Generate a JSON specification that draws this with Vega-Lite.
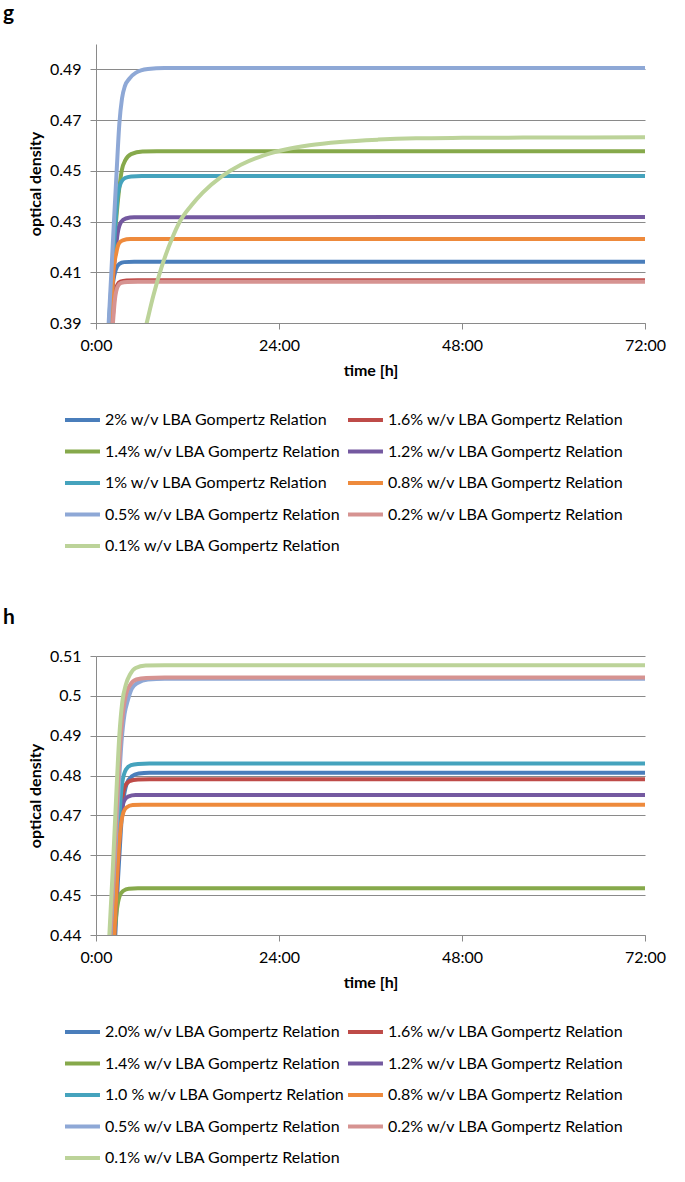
{
  "$schema": "https://vega.github.io/schema/vega-lite/v6.json",
  "background": "white",
  "padding": {"left": 3, "top": 3, "right": 5, "bottom": 0},
  "config": {
    "font": "Lato",
    "view": {"stroke": null},
    "axis": {
      "domainColor": "#8a8a8a", "tickColor": "#8a8a8a", "gridColor": "#8a8a8a", "gridWidth": 1.2,
      "labelColor": "#000000", "labelFont": "Lato", "labelFontSize": 16,
      "titleColor": "#000000", "titleFont": "Lato", "titleFontSize": 16, "titleFontWeight": "bold",
      "tickSize": 6
    },
    "legend": {
      "labelFont": "Lato", "labelFontSize": 16, "labelColor": "#000000", "labelLimit": 500
    },
    "title": {"font": "Lato", "fontSize": 21, "fontWeight": "bold", "color": "#000000"}
  },
  "resolve": {"scale": {"color": "independent", "y": "independent"}, "legend": {"color": "independent"}},
  "spacing": 53,
  "datasets": {
    "g": [
      {"s": "2% w/v LBA Gompertz Relation", "t": 1.6, "v": 0.375},
      {"s": "2% w/v LBA Gompertz Relation", "t": 1.95, "v": 0.39},
      {"s": "2% w/v LBA Gompertz Relation", "t": 2.18, "v": 0.4043},
      {"s": "2% w/v LBA Gompertz Relation", "t": 2.6, "v": 0.411},
      {"s": "2% w/v LBA Gompertz Relation", "t": 3.06, "v": 0.4133},
      {"s": "2% w/v LBA Gompertz Relation", "t": 3.7, "v": 0.414},
      {"s": "2% w/v LBA Gompertz Relation", "t": 5, "v": 0.4141},
      {"s": "2% w/v LBA Gompertz Relation", "t": 72, "v": 0.4141},
      {"s": "1.6%  w/v LBA Gompertz Relation", "t": 1.8, "v": 0.375},
      {"s": "1.6%  w/v LBA Gompertz Relation", "t": 2.15, "v": 0.39},
      {"s": "1.6%  w/v LBA Gompertz Relation", "t": 2.4, "v": 0.3995},
      {"s": "1.6%  w/v LBA Gompertz Relation", "t": 2.8, "v": 0.405},
      {"s": "1.6%  w/v LBA Gompertz Relation", "t": 3.2, "v": 0.4063},
      {"s": "1.6%  w/v LBA Gompertz Relation", "t": 4, "v": 0.4068},
      {"s": "1.6%  w/v LBA Gompertz Relation", "t": 5.5, "v": 0.4069},
      {"s": "1.6%  w/v LBA Gompertz Relation", "t": 72, "v": 0.4069},
      {"s": "1.4%  w/v LBA Gompertz Relation", "t": 1.3, "v": 0.37},
      {"s": "1.4%  w/v LBA Gompertz Relation", "t": 1.75, "v": 0.39},
      {"s": "1.4%  w/v LBA Gompertz Relation", "t": 2.3, "v": 0.417},
      {"s": "1.4%  w/v LBA Gompertz Relation", "t": 2.97, "v": 0.441},
      {"s": "1.4%  w/v LBA Gompertz Relation", "t": 3.4, "v": 0.4505},
      {"s": "1.4%  w/v LBA Gompertz Relation", "t": 3.85, "v": 0.4542},
      {"s": "1.4%  w/v LBA Gompertz Relation", "t": 4.6, "v": 0.4566},
      {"s": "1.4%  w/v LBA Gompertz Relation", "t": 6.1, "v": 0.4576},
      {"s": "1.4%  w/v LBA Gompertz Relation", "t": 8, "v": 0.4577},
      {"s": "1.4%  w/v LBA Gompertz Relation", "t": 72, "v": 0.4577},
      {"s": "1.2%  w/v LBA Gompertz Relation", "t": 1.3, "v": 0.37},
      {"s": "1.2%  w/v LBA Gompertz Relation", "t": 1.8, "v": 0.39},
      {"s": "1.2%  w/v LBA Gompertz Relation", "t": 2.45, "v": 0.4148},
      {"s": "1.2%  w/v LBA Gompertz Relation", "t": 2.85, "v": 0.4255},
      {"s": "1.2%  w/v LBA Gompertz Relation", "t": 3.28, "v": 0.4298},
      {"s": "1.2%  w/v LBA Gompertz Relation", "t": 3.9, "v": 0.4312},
      {"s": "1.2%  w/v LBA Gompertz Relation", "t": 5, "v": 0.4317},
      {"s": "1.2%  w/v LBA Gompertz Relation", "t": 72, "v": 0.4318},
      {"s": "1%  w/v LBA Gompertz Relation", "t": 1.2, "v": 0.37},
      {"s": "1%  w/v LBA Gompertz Relation", "t": 1.7, "v": 0.39},
      {"s": "1%  w/v LBA Gompertz Relation", "t": 2.3, "v": 0.418},
      {"s": "1%  w/v LBA Gompertz Relation", "t": 2.88, "v": 0.441},
      {"s": "1%  w/v LBA Gompertz Relation", "t": 3.3, "v": 0.4455},
      {"s": "1%  w/v LBA Gompertz Relation", "t": 3.8, "v": 0.4472},
      {"s": "1%  w/v LBA Gompertz Relation", "t": 4.6, "v": 0.4478},
      {"s": "1%  w/v LBA Gompertz Relation", "t": 6, "v": 0.448},
      {"s": "1%  w/v LBA Gompertz Relation", "t": 72, "v": 0.448},
      {"s": "0.8%  w/v LBA Gompertz Relation", "t": 1.5, "v": 0.375},
      {"s": "0.8%  w/v LBA Gompertz Relation", "t": 1.97, "v": 0.39},
      {"s": "0.8%  w/v LBA Gompertz Relation", "t": 2.27, "v": 0.4096},
      {"s": "0.8%  w/v LBA Gompertz Relation", "t": 2.65, "v": 0.4175},
      {"s": "0.8%  w/v LBA Gompertz Relation", "t": 3.0, "v": 0.4213},
      {"s": "0.8%  w/v LBA Gompertz Relation", "t": 3.5, "v": 0.4226},
      {"s": "0.8%  w/v LBA Gompertz Relation", "t": 4.5, "v": 0.4231},
      {"s": "0.8%  w/v LBA Gompertz Relation", "t": 72, "v": 0.4231},
      {"s": "0.5%  w/v LBA Gompertz Relation", "t": 1.2, "v": 0.37},
      {"s": "0.5%  w/v LBA Gompertz Relation", "t": 1.66, "v": 0.39},
      {"s": "0.5%  w/v LBA Gompertz Relation", "t": 2.2, "v": 0.421},
      {"s": "0.5%  w/v LBA Gompertz Relation", "t": 2.71, "v": 0.45},
      {"s": "0.5%  w/v LBA Gompertz Relation", "t": 3.06, "v": 0.4685},
      {"s": "0.5%  w/v LBA Gompertz Relation", "t": 3.41, "v": 0.4785},
      {"s": "0.5%  w/v LBA Gompertz Relation", "t": 3.8, "v": 0.4835},
      {"s": "0.5%  w/v LBA Gompertz Relation", "t": 4.37, "v": 0.4863},
      {"s": "0.5%  w/v LBA Gompertz Relation", "t": 5.2, "v": 0.4886},
      {"s": "0.5%  w/v LBA Gompertz Relation", "t": 6.8, "v": 0.4901},
      {"s": "0.5%  w/v LBA Gompertz Relation", "t": 9, "v": 0.4905},
      {"s": "0.5%  w/v LBA Gompertz Relation", "t": 72, "v": 0.4905},
      {"s": "0.2%  w/v LBA Gompertz Relation", "t": 1.85, "v": 0.375},
      {"s": "0.2%  w/v LBA Gompertz Relation", "t": 2.22, "v": 0.39},
      {"s": "0.2%  w/v LBA Gompertz Relation", "t": 2.47, "v": 0.399},
      {"s": "0.2%  w/v LBA Gompertz Relation", "t": 2.87, "v": 0.4045},
      {"s": "0.2%  w/v LBA Gompertz Relation", "t": 3.3, "v": 0.4058},
      {"s": "0.2%  w/v LBA Gompertz Relation", "t": 4.1, "v": 0.4062},
      {"s": "0.2%  w/v LBA Gompertz Relation", "t": 5.5, "v": 0.4063},
      {"s": "0.2%  w/v LBA Gompertz Relation", "t": 72, "v": 0.4063},
      {"s": "0.1%  w/v LBA Gompertz Relation", "t": 6.0, "v": 0.382},
      {"s": "0.1%  w/v LBA Gompertz Relation", "t": 6.65, "v": 0.39},
      {"s": "0.1%  w/v LBA Gompertz Relation", "t": 7.5, "v": 0.4005},
      {"s": "0.1%  w/v LBA Gompertz Relation", "t": 8.6, "v": 0.412},
      {"s": "0.1%  w/v LBA Gompertz Relation", "t": 10, "v": 0.4235},
      {"s": "0.1%  w/v LBA Gompertz Relation", "t": 11, "v": 0.43},
      {"s": "0.1%  w/v LBA Gompertz Relation", "t": 12.5, "v": 0.4363},
      {"s": "0.1%  w/v LBA Gompertz Relation", "t": 14, "v": 0.4414},
      {"s": "0.1%  w/v LBA Gompertz Relation", "t": 16.5, "v": 0.4478},
      {"s": "0.1%  w/v LBA Gompertz Relation", "t": 19, "v": 0.4524},
      {"s": "0.1%  w/v LBA Gompertz Relation", "t": 22, "v": 0.4561},
      {"s": "0.1%  w/v LBA Gompertz Relation", "t": 25, "v": 0.4585},
      {"s": "0.1%  w/v LBA Gompertz Relation", "t": 28, "v": 0.4601},
      {"s": "0.1%  w/v LBA Gompertz Relation", "t": 32, "v": 0.4614},
      {"s": "0.1%  w/v LBA Gompertz Relation", "t": 37, "v": 0.4623},
      {"s": "0.1%  w/v LBA Gompertz Relation", "t": 42, "v": 0.4628},
      {"s": "0.1%  w/v LBA Gompertz Relation", "t": 48, "v": 0.463},
      {"s": "0.1%  w/v LBA Gompertz Relation", "t": 56, "v": 0.4631},
      {"s": "0.1%  w/v LBA Gompertz Relation", "t": 72, "v": 0.4632}
    ],
    "h": [
      {"s": "2.0% w/v LBA Gompertz Relation", "t": 2.0, "v": 0.42},
      {"s": "2.0% w/v LBA Gompertz Relation", "t": 2.53, "v": 0.44},
      {"s": "2.0% w/v LBA Gompertz Relation", "t": 2.9, "v": 0.4545},
      {"s": "2.0% w/v LBA Gompertz Relation", "t": 3.25, "v": 0.466},
      {"s": "2.0% w/v LBA Gompertz Relation", "t": 3.58, "v": 0.4736},
      {"s": "2.0% w/v LBA Gompertz Relation", "t": 4.0, "v": 0.4778},
      {"s": "2.0% w/v LBA Gompertz Relation", "t": 4.7, "v": 0.4798},
      {"s": "2.0% w/v LBA Gompertz Relation", "t": 5.6, "v": 0.4805},
      {"s": "2.0% w/v LBA Gompertz Relation", "t": 7, "v": 0.4807},
      {"s": "2.0% w/v LBA Gompertz Relation", "t": 72, "v": 0.4807},
      {"s": "1.6% w/v LBA Gompertz Relation", "t": 1.9, "v": 0.42},
      {"s": "1.6% w/v LBA Gompertz Relation", "t": 2.4, "v": 0.44},
      {"s": "1.6% w/v LBA Gompertz Relation", "t": 2.8, "v": 0.455},
      {"s": "1.6% w/v LBA Gompertz Relation", "t": 3.1, "v": 0.4655},
      {"s": "1.6% w/v LBA Gompertz Relation", "t": 3.41, "v": 0.4736},
      {"s": "1.6% w/v LBA Gompertz Relation", "t": 3.8, "v": 0.4773},
      {"s": "1.6% w/v LBA Gompertz Relation", "t": 4.4, "v": 0.4786},
      {"s": "1.6% w/v LBA Gompertz Relation", "t": 5.5, "v": 0.479},
      {"s": "1.6% w/v LBA Gompertz Relation", "t": 7, "v": 0.4791},
      {"s": "1.6% w/v LBA Gompertz Relation", "t": 72, "v": 0.4791},
      {"s": "1.4% w/v LBA Gompertz Relation", "t": 1.8, "v": 0.425},
      {"s": "1.4% w/v LBA Gompertz Relation", "t": 2.4, "v": 0.44},
      {"s": "1.4% w/v LBA Gompertz Relation", "t": 2.75, "v": 0.4465},
      {"s": "1.4% w/v LBA Gompertz Relation", "t": 3.1, "v": 0.4498},
      {"s": "1.4% w/v LBA Gompertz Relation", "t": 3.6, "v": 0.4511},
      {"s": "1.4% w/v LBA Gompertz Relation", "t": 4.3, "v": 0.4516},
      {"s": "1.4% w/v LBA Gompertz Relation", "t": 5.5, "v": 0.4517},
      {"s": "1.4% w/v LBA Gompertz Relation", "t": 72, "v": 0.4517},
      {"s": "1.2% w/v LBA Gompertz Relation", "t": 1.9, "v": 0.42},
      {"s": "1.2% w/v LBA Gompertz Relation", "t": 2.4, "v": 0.44},
      {"s": "1.2% w/v LBA Gompertz Relation", "t": 2.8, "v": 0.4555},
      {"s": "1.2% w/v LBA Gompertz Relation", "t": 3.28, "v": 0.4694},
      {"s": "1.2% w/v LBA Gompertz Relation", "t": 3.65, "v": 0.4735},
      {"s": "1.2% w/v LBA Gompertz Relation", "t": 4.2, "v": 0.4747},
      {"s": "1.2% w/v LBA Gompertz Relation", "t": 5.2, "v": 0.4751},
      {"s": "1.2% w/v LBA Gompertz Relation", "t": 72, "v": 0.4751},
      {"s": "1.0 % w/v LBA Gompertz Relation", "t": 1.8, "v": 0.425},
      {"s": "1.0 % w/v LBA Gompertz Relation", "t": 2.27, "v": 0.44},
      {"s": "1.0 % w/v LBA Gompertz Relation", "t": 2.7, "v": 0.4555},
      {"s": "1.0 % w/v LBA Gompertz Relation", "t": 3.06, "v": 0.4694},
      {"s": "1.0 % w/v LBA Gompertz Relation", "t": 3.41, "v": 0.4778},
      {"s": "1.0 % w/v LBA Gompertz Relation", "t": 3.93, "v": 0.4815},
      {"s": "1.0 % w/v LBA Gompertz Relation", "t": 4.6, "v": 0.4826},
      {"s": "1.0 % w/v LBA Gompertz Relation", "t": 5.5, "v": 0.4829},
      {"s": "1.0 % w/v LBA Gompertz Relation", "t": 7, "v": 0.483},
      {"s": "1.0 % w/v LBA Gompertz Relation", "t": 72, "v": 0.483},
      {"s": "0.8% w/v  LBA Gompertz Relation", "t": 1.9, "v": 0.42},
      {"s": "0.8% w/v  LBA Gompertz Relation", "t": 2.4, "v": 0.44},
      {"s": "0.8% w/v  LBA Gompertz Relation", "t": 2.97, "v": 0.461},
      {"s": "0.8% w/v  LBA Gompertz Relation", "t": 3.28, "v": 0.4678},
      {"s": "0.8% w/v  LBA Gompertz Relation", "t": 3.6, "v": 0.4708},
      {"s": "0.8% w/v  LBA Gompertz Relation", "t": 4.0, "v": 0.472},
      {"s": "0.8% w/v  LBA Gompertz Relation", "t": 4.8, "v": 0.4726},
      {"s": "0.8% w/v  LBA Gompertz Relation", "t": 6, "v": 0.4727},
      {"s": "0.8% w/v  LBA Gompertz Relation", "t": 72, "v": 0.4727},
      {"s": "0.5% w/v LBA Gompertz Relation", "t": 1.4, "v": 0.42},
      {"s": "0.5% w/v LBA Gompertz Relation", "t": 1.9, "v": 0.44},
      {"s": "0.5% w/v LBA Gompertz Relation", "t": 2.4, "v": 0.457},
      {"s": "0.5% w/v LBA Gompertz Relation", "t": 2.85, "v": 0.4725},
      {"s": "0.5% w/v LBA Gompertz Relation", "t": 3.35, "v": 0.4885},
      {"s": "0.5% w/v LBA Gompertz Relation", "t": 3.75, "v": 0.4955},
      {"s": "0.5% w/v LBA Gompertz Relation", "t": 4.15, "v": 0.4987},
      {"s": "0.5% w/v LBA Gompertz Relation", "t": 4.7, "v": 0.5018},
      {"s": "0.5% w/v LBA Gompertz Relation", "t": 5.5, "v": 0.5033},
      {"s": "0.5% w/v LBA Gompertz Relation", "t": 6.8, "v": 0.5041},
      {"s": "0.5% w/v LBA Gompertz Relation", "t": 9, "v": 0.5043},
      {"s": "0.5% w/v LBA Gompertz Relation", "t": 72, "v": 0.5043},
      {"s": "0.2% w/v LBA Gompertz Relation", "t": 1.3, "v": 0.42},
      {"s": "0.2% w/v LBA Gompertz Relation", "t": 1.85, "v": 0.44},
      {"s": "0.2% w/v LBA Gompertz Relation", "t": 2.3, "v": 0.456},
      {"s": "0.2% w/v LBA Gompertz Relation", "t": 2.75, "v": 0.4725},
      {"s": "0.2% w/v LBA Gompertz Relation", "t": 3.2, "v": 0.4885},
      {"s": "0.2% w/v LBA Gompertz Relation", "t": 3.55, "v": 0.496},
      {"s": "0.2% w/v LBA Gompertz Relation", "t": 3.9, "v": 0.5001},
      {"s": "0.2% w/v LBA Gompertz Relation", "t": 4.5, "v": 0.5028},
      {"s": "0.2% w/v LBA Gompertz Relation", "t": 5.3, "v": 0.5041},
      {"s": "0.2% w/v LBA Gompertz Relation", "t": 6.6, "v": 0.5045},
      {"s": "0.2% w/v LBA Gompertz Relation", "t": 9, "v": 0.5046},
      {"s": "0.2% w/v LBA Gompertz Relation", "t": 72, "v": 0.5046},
      {"s": "0.1% w/v LBA Gompertz Relation", "t": 1.3, "v": 0.425},
      {"s": "0.1% w/v LBA Gompertz Relation", "t": 1.75, "v": 0.44},
      {"s": "0.1% w/v LBA Gompertz Relation", "t": 2.2, "v": 0.4565},
      {"s": "0.1% w/v LBA Gompertz Relation", "t": 2.62, "v": 0.4736},
      {"s": "0.1% w/v LBA Gompertz Relation", "t": 3.06, "v": 0.49},
      {"s": "0.1% w/v LBA Gompertz Relation", "t": 3.45, "v": 0.4985},
      {"s": "0.1% w/v LBA Gompertz Relation", "t": 3.93, "v": 0.5029},
      {"s": "0.1% w/v LBA Gompertz Relation", "t": 4.5, "v": 0.5055},
      {"s": "0.1% w/v LBA Gompertz Relation", "t": 5.2, "v": 0.507},
      {"s": "0.1% w/v LBA Gompertz Relation", "t": 6.5, "v": 0.5076},
      {"s": "0.1% w/v LBA Gompertz Relation", "t": 9, "v": 0.5077},
      {"s": "0.1% w/v LBA Gompertz Relation", "t": 72, "v": 0.5077}
    ]
  },
  "vconcat": [
    {
      "title": {"text": "g", "anchor": "start", "frame": "group", "align": "left", "dx": -93, "offset": 20},
      "width": 549,
      "height": 279,
      "data": {"name": "g"},
      "mark": {"type": "line", "strokeWidth": 4, "interpolate": "monotone", "clip": true},
      "encoding": {
        "x": {"field": "t", "type": "quantitative", "scale": {"domain": [0, 72], "nice": false},
          "axis": {"title": "time [h]", "values": [0, 24, 48, 72], "labelExpr": "datum.value + ':00'", "grid": false, "labelFlush": false, "labelPadding": 8, "titlePadding": 9}},
        "y": {"field": "v", "type": "quantitative", "scale": {"domain": [0.39, 0.5], "nice": false, "zero": false},
          "axis": {"title": "optical density", "values": [0.39, 0.41, 0.43, 0.45, 0.47, 0.49], "format": ".2f", "grid": true, "labelPadding": 9, "titlePadding": 6}},
        "color": {"field": "s", "type": "nominal",
          "scale": {"domain": ["2% w/v LBA Gompertz Relation", "1.6%  w/v LBA Gompertz Relation", "1.4%  w/v LBA Gompertz Relation", "1.2%  w/v LBA Gompertz Relation", "1%  w/v LBA Gompertz Relation", "0.8%  w/v LBA Gompertz Relation", "0.5%  w/v LBA Gompertz Relation", "0.2%  w/v LBA Gompertz Relation", "0.1%  w/v LBA Gompertz Relation"],
            "range": ["#4A7EBB", "#BE4B48", "#86A94B", "#7459A0", "#45A3BD", "#EE8A3C", "#8EA8D6", "#D69391", "#BCD399"]},
          "legend": {"title": null, "orient": "none", "direction": "horizontal", "legendX": -33, "legendY": 368, "columns": 2, "symbolType": "M -1 0 L 4.83 0", "symbolSize": 144, "symbolStrokeWidth": 4, "labelOffset": 26, "rowPadding": 15.5, "columnPadding": -5}}
      }
    },
    {
      "title": {"text": "h", "anchor": "start", "frame": "group", "align": "left", "dx": -93, "offset": 20},
      "width": 549,
      "height": 279,
      "data": {"name": "h"},
      "mark": {"type": "line", "strokeWidth": 4, "interpolate": "monotone", "clip": true},
      "encoding": {
        "x": {"field": "t", "type": "quantitative", "scale": {"domain": [0, 72], "nice": false},
          "axis": {"title": "time [h]", "values": [0, 24, 48, 72], "labelExpr": "datum.value + ':00'", "grid": false, "labelFlush": false, "labelPadding": 8, "titlePadding": 9}},
        "y": {"field": "v", "type": "quantitative", "scale": {"domain": [0.44, 0.51], "nice": false, "zero": false},
          "axis": {"title": "optical density", "values": [0.44, 0.45, 0.46, 0.47, 0.48, 0.49, 0.5, 0.51], "format": ".2~f", "grid": true, "labelPadding": 9, "titlePadding": 6}},
        "color": {"field": "s", "type": "nominal",
          "scale": {"domain": ["2.0% w/v LBA Gompertz Relation", "1.6% w/v LBA Gompertz Relation", "1.4% w/v LBA Gompertz Relation", "1.2% w/v LBA Gompertz Relation", "1.0 % w/v LBA Gompertz Relation", "0.8% w/v  LBA Gompertz Relation", "0.5% w/v LBA Gompertz Relation", "0.2% w/v LBA Gompertz Relation", "0.1% w/v LBA Gompertz Relation"],
            "range": ["#4A7EBB", "#BE4B48", "#86A94B", "#7459A0", "#45A3BD", "#EE8A3C", "#8EA8D6", "#D69391", "#BCD399"]},
          "legend": {"title": null, "orient": "none", "direction": "horizontal", "legendX": -33, "legendY": 368, "columns": 2, "symbolType": "M -1 0 L 4.83 0", "symbolSize": 144, "symbolStrokeWidth": 4, "labelOffset": 26, "rowPadding": 15.5, "columnPadding": -5}}
      }
    }
  ]
}
